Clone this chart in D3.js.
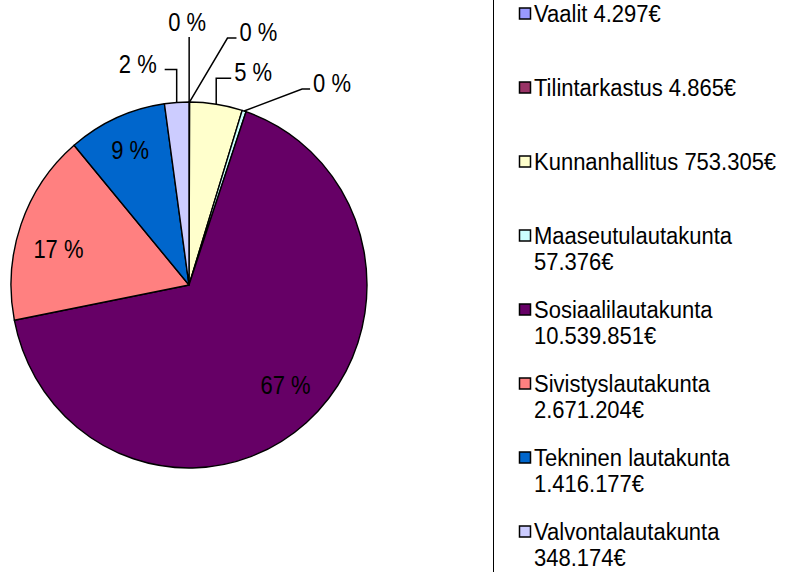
<!DOCTYPE html>
<html>
<head>
<meta charset="utf-8">
<script src="https://cdn.jsdelivr.net/npm/d3@7"></script>
<style>
  body { margin: 0; background: #fff; }
  svg { display: block; font-family: "Liberation Sans", Arial, sans-serif; }
</style>
</head>
<body>
<div id="chart"></div>
<script>
// Budget by committee (euros), in pie order clockwise from 12 o'clock
const names = ["Vaalit", "Tilintarkastus", "Kunnanhallitus", "Maaseutulautakunta",
  "Sosiaalilautakunta", "Sivistyslautakunta", "Tekninen lautakunta", "Valvontalautakunta"];
const amounts = [4297, 4865, 753305, 57376, 10539851, 2671204, 1416177, 348174];
const amountLabels = ["4.297€", "4.865€", "753.305€", "57.376€", "10.539.851€", "2.671.204€", "1.416.177€", "348.174€"];
const colors = ["#9999FF", "#993366", "#FFFFCC", "#CCFFFF", "#660066", "#FF8080", "#0066CC", "#CCCCFF"];

const width = 785, height = 572;
const cx = 189, cy = 285, r = 178, yStretch = 1.028;

const svg = d3.select("#chart")
  .append("svg")
  .attr("width", width)
  .attr("height", height);

const total = d3.sum(amounts);
const data = names.map((name, i) => ({ name, amount: amounts[i], label: amountLabels[i], color: colors[i] }));

const pie = d3.pie().sort(null).value(d => d.amount);
const arcs = pie(data);
const arc = d3.arc().innerRadius(0).outerRadius(r);

// Pie group (source image is slightly taller than wide)
const g = svg.append("g")
  .attr("transform", `translate(${cx},${cy}) scale(1,${yStretch})`);

g.selectAll("path")
  .data(arcs)
  .enter()
  .append("path")
  .attr("d", arc)
  .attr("fill", d => d.data.color)
  .attr("stroke", "#000")
  .attr("stroke-width", 1.4)
  .attr("stroke-linejoin", "round");

const pct = d => Math.round(d.data.amount / total * 100) + " %";

// point on the pie at angle a, radius fraction k (screen coords)
function pt(a, k) {
  return [cx + Math.sin(a) * r * k, cy - Math.cos(a) * r * k * yStretch];
}
const mid = d => (d.startAngle + d.endAngle) / 2;

// text centred vertically on y, stretched like the source glyphs
function addText(parent, x, y, str, anchor, stretch) {
  return parent.append("text")
    .attr("transform", `translate(${x},${y}) scale(1,${stretch})`)
    .attr("dy", "0.35em")
    .attr("text-anchor", anchor || "start")
    .text(str);
}

// label layout: inside labels at radius fraction + nudge, outside with leader elbows
const labelLayout = [
  { out: true, rise: 65, run: 0, side: 0 },       // Vaalit
  { out: true, rise: 64, run: 38, tail: 9 },      // Tilintarkastus
  { out: true, rise: 26, run: 0, tail: 15 },      // Kunnanhallitus
  { out: true, rise: 22, run: 58, tail: 8 },      // Maaseutu
  { out: false, k: 0.78, dx: 5, dy: -7 },         // Sosiaali
  { out: false, k: 0.70, dx: -13, dy: 6 },        // Sivistys
  { out: false, k: 0.81, dx: 0, dy: 0 },          // Tekninen
  { out: true, rise: 33, run: 0, tail: -12 }      // Valvonta
];

const labels = svg.append("g")
  .attr("font-size", 22)
  .attr("fill", "#000");

arcs.forEach((d, i) => {
  const L = labelLayout[i];
  const a = mid(d);
  if (!L.out) {
    const p = pt(a, L.k);
    addText(labels, p[0] + L.dx, p[1] + L.dy, pct(d), "middle", 1.18);
    return;
  }
  const p0 = pt(a, 1);
  const elbow = [p0[0] + L.run, p0[1] - L.rise];
  const pts = [p0, elbow];
  let tx, ty, anchor;
  if (L.side === 0) {
    tx = elbow[0] - 2; ty = elbow[1] - 15; anchor = "middle";
  } else {
    const end = [elbow[0] + L.tail, elbow[1]];
    pts.push(end);
    anchor = L.tail > 0 ? "start" : "end";
    tx = end[0] + (L.tail > 0 ? 3 : -8);
    ty = elbow[1] - 6;
  }
  labels.append("path")
    .attr("d", d3.line()(pts))
    .attr("fill", "none")
    .attr("stroke", "#000")
    .attr("stroke-width", 1.5);
  addText(labels, tx, ty, pct(d), anchor, 1.18);
});

// Legend
svg.append("line")
  .attr("x1", 493.5).attr("x2", 493.5)
  .attr("y1", 0).attr("y2", height)
  .attr("stroke", "#000")
  .attr("stroke-width", 1);

const ly = d3.scalePoint()
  .domain(names)
  .range([14, 532]);

const legend = svg.append("g")
  .attr("font-size", 22)
  .attr("fill", "#000");

const textX = 534, maxW = 248, lineH = 26;

data.forEach(d => {
  const y = ly(d.name);
  legend.append("rect")
    .attr("x", 519.5)
    .attr("y", y - 6)
    .attr("width", 11)
    .attr("height", 11)
    .attr("fill", d.color)
    .attr("stroke", "#000")
    .attr("stroke-width", 1.5);
  const t = addText(legend, textX, y, d.name + " " + d.label, "start", 1.05);
  if (t.node().getComputedTextLength() > maxW) {
    t.text(d.name);
    addText(legend, textX, y + lineH, d.label, "start", 1.05);
  }
});
</script>
</body>
</html>
